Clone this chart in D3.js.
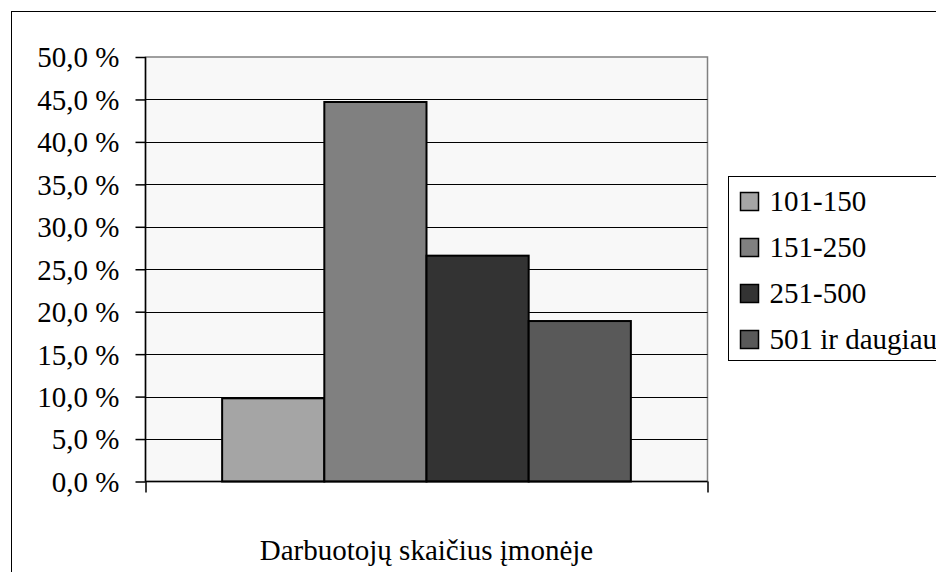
<!DOCTYPE html>
<html>
<head>
<meta charset="utf-8">
<script src="https://cdn.jsdelivr.net/npm/d3@7"></script>
<style>
  html, body { margin: 0; padding: 0; background: #ffffff; }
  svg { display: block; }
  svg text { font-family: "Liberation Serif", "Times New Roman", Times, "DejaVu Serif", serif; fill: #000; }
</style>
</head>
<body>
<svg id="chart" width="936" height="572"></svg>
<script>
// Share of companies by number of employees
const category = "Darbuotojų skaičius įmonėje";
const seriesNames = ["101-150", "151-250", "251-500", "501 ir daugiau"];
const seriesValues = [9.8, 44.7, 26.6, 18.9];
const seriesColors = ["#a5a5a5", "#808080", "#333333", "#595959"];
const yTicks = [0, 5, 10, 15, 20, 25, 30, 35, 40, 45, 50];
const yTickLabels = ["0,0 %", "5,0 %", "10,0 %", "15,0 %", "20,0 %", "25,0 %", "30,0 %", "35,0 %", "40,0 %", "45,0 %", "50,0 %"];

const SERIF = '"Liberation Serif", "Times New Roman", Times, "DejaVu Serif", serif';
const svg = d3.select("#chart");
const W = 936, H = 572;
const FONT = 29;

// outer chart frame (runs past the right and bottom edges)
svg.append("rect")
  .attr("x", 11.5).attr("y", 11.5)
  .attr("width", W + 20).attr("height", H + 20)
  .attr("fill", "#ffffff").attr("stroke", "#000").attr("stroke-width", 1);

const plot = { left: 145.5, top: 57, right: 707.5, bottom: 481.5 };
const pw = plot.right - plot.left, ph = plot.bottom - plot.top;

const y = d3.scaleLinear().domain([0, 50]).range([plot.bottom, plot.top]);
const x0 = d3.scaleBand().domain([category]).range([plot.left, plot.right]);
const x1 = d3.scaleBand().domain(seriesNames).range([0, x0.bandwidth()]).paddingInner(0).paddingOuter(0.75);

// plot background and border
svg.append("rect")
  .attr("x", plot.left).attr("y", plot.top)
  .attr("width", pw).attr("height", ph)
  .attr("fill", "#f8f8f8").attr("stroke", "#808080").attr("stroke-width", 1.5);

// horizontal gridlines
svg.append("g").selectAll("line")
  .data(yTicks.filter(d => d > 0 && d < 50))
  .join("line")
  .attr("x1", plot.left).attr("x2", plot.right)
  .attr("y1", d => Math.round(y(d)) + 0.5).attr("y2", d => Math.round(y(d)) + 0.5)
  .attr("stroke", "#000").attr("stroke-width", 1);

// bars
const g = svg.append("g").attr("transform", `translate(${x0(category)},0)`);
g.selectAll("rect")
  .data(seriesNames.map((n, i) => ({ name: n, value: seriesValues[i], color: seriesColors[i] })))
  .join("rect")
  .attr("x", d => x1(d.name))
  .attr("y", d => y(d.value))
  .attr("width", x1.bandwidth())
  .attr("height", d => y(0) - y(d.value))
  .attr("fill", d => d.color)
  .attr("stroke", "#000").attr("stroke-width", 2);

// y axis
const yAxis = d3.axisLeft(y)
  .tickValues(yTicks)
  .tickFormat((d, i) => yTickLabels[i])
  .tickSize(10).tickPadding(16);
const ya = svg.append("g").attr("transform", `translate(${plot.left},0)`).call(yAxis)
  .attr("font-family", SERIF).attr("font-size", FONT);
ya.select(".domain").attr("stroke", "#000").attr("stroke-width", 1.5).attr("d", `M0,${plot.top}V${plot.bottom}`);
ya.selectAll(".tick line").attr("stroke", "#000").attr("stroke-width", 1.5);
ya.selectAll(".tick text").attr("font-size", FONT).attr("font-family", SERIF).attr("dy", "0.34em");

// x axis: baseline with tick marks at the category boundaries
const xAxis = d3.axisBottom(d3.scaleLinear().domain([0, 1]).range([plot.left, plot.right]))
  .tickValues([0, 1]).tickFormat("").tickSize(11);
const xa = svg.append("g").attr("transform", `translate(0,${plot.bottom})`).call(xAxis);
xa.select(".domain").attr("stroke", "#000").attr("stroke-width", 1.5).attr("d", `M${plot.left},0H${plot.right}`);
xa.selectAll(".tick line").attr("stroke", "#000").attr("stroke-width", 1.5);

// category title
svg.append("text")
  .attr("x", x0(category) + x0.bandwidth() / 2)
  .attr("y", 560)
  .attr("text-anchor", "middle")
  .attr("font-family", SERIF)
  .attr("font-size", FONT)
  .text(category);

// legend
const lg = { x: 728.5, y: 176.5, row: 46 };
svg.append("rect")
  .attr("x", lg.x).attr("y", lg.y)
  .attr("width", 260).attr("height", lg.row * seriesNames.length)
  .attr("fill", "#ffffff").attr("stroke", "#000").attr("stroke-width", 1);
const items = svg.append("g").selectAll("g")
  .data(seriesNames)
  .join("g")
  .attr("transform", (d, i) => `translate(${lg.x + 12},${lg.y + 25 + i * lg.row})`);
items.append("rect")
  .attr("x", 0).attr("y", -9).attr("width", 18).attr("height", 18)
  .attr("fill", (d, i) => seriesColors[i])
  .attr("stroke", "#000").attr("stroke-width", 1.5);
items.append("text")
  .attr("x", 29).attr("y", 0).attr("dy", "0.34em")
  .attr("font-family", SERIF)
  .attr("font-size", FONT)
  .text(d => d);
</script>
</body>
</html>
